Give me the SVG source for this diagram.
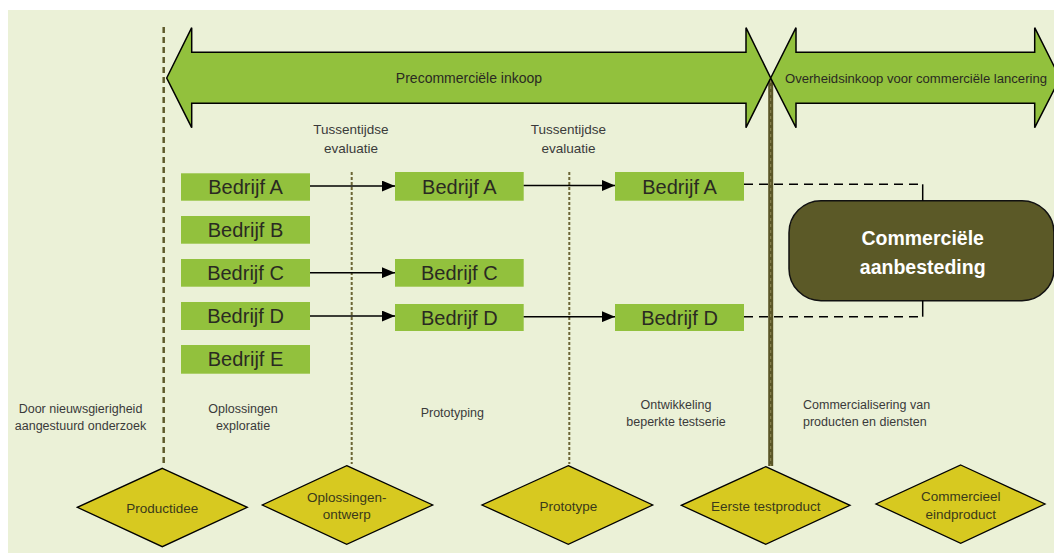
<svg xmlns="http://www.w3.org/2000/svg" width="1054" height="556" viewBox="0 0 1054 556">
<defs>
<style>
.panel{fill:#EBF1D7}
.band{fill:#92C13D;stroke:#000;stroke-width:1.5;stroke-linejoin:miter}
.box{fill:#92C13D}
.bt{font-family:"Liberation Sans",Arial,sans-serif;font-size:20px;fill:#2A2A22;text-anchor:middle}
.lbl{font-family:"Liberation Sans",Arial,sans-serif;font-size:12.5px;fill:#3A3A3A;text-anchor:middle}
.lbs{font-family:"Liberation Sans",Arial,sans-serif;font-size:12.5px;fill:#3A3A3A;text-anchor:start}
.ev{font-family:"Liberation Sans",Arial,sans-serif;font-size:13.5px;fill:#3A3A3A;text-anchor:middle}
.dt{font-family:"Liberation Sans",Arial,sans-serif;font-size:13.5px;fill:#3A3A1A;text-anchor:middle}
.dia{fill:#D7C920;stroke:#000;stroke-width:1.3}
.vdash{stroke:#5E5A2B;stroke-width:2.5;stroke-dasharray:6,4;fill:none}
.vdot{stroke:#6B6535;stroke-width:2;stroke-dasharray:3,2;fill:none}
.arr{stroke:#000;stroke-width:1.5;fill:none}
.dsh{stroke:#000;stroke-width:1.5;fill:none;stroke-dasharray:9,6}
</style>
<marker id="ah2" viewBox="0 0 12 10" refX="12" refY="5" markerWidth="13" markerHeight="11" markerUnits="userSpaceOnUse" orient="auto">
<path d="M0,0 L12,5 L0,10 z" fill="#000"/>
</marker>
</defs>

<rect class="panel" x="8" y="10" width="1046" height="543"/>

<g id="phase-lines">
<line class="vdash" x1="163.7" y1="27" x2="163.7" y2="466"/>
<line class="vdot" x1="351.7" y1="172" x2="351.7" y2="464"/>
<line class="vdot" x1="569.3" y1="172" x2="569.3" y2="464"/>
<line x1="770.7" y1="78" x2="770.7" y2="466" stroke="#5A5627" stroke-width="5"/>
<line x1="770.7" y1="80" x2="770.7" y2="466" stroke="#8E8955" stroke-width="1" stroke-dasharray="3,3"/>
</g>

<g id="arrow-precommercial">
<polygon class="band" points="166.7,78 191.7,27.7 191.7,52.3 746,52.3 746,27.7 770.7,78 746,127.7 746,103.3 191.7,103.3 191.7,127.7"/>
<text x="469" y="83" font-family="Liberation Sans,Arial,sans-serif" font-size="14" fill="#2A2A22" text-anchor="middle">Precommerciële inkoop</text>
</g>

<g id="arrow-commercial">
<polygon class="band" points="770.7,78 796,27.7 796,52.3 1034.7,52.3 1034.7,27.7 1060,78 1034.7,127.7 1034.7,103.3 796,103.3 796,127.7"/>
<text x="916" y="82.5" font-family="Liberation Sans,Arial,sans-serif" font-size="12" fill="#2A2A22" text-anchor="middle" textLength="262" lengthAdjust="spacingAndGlyphs">Overheidsinkoop voor commerciële lancering</text>
</g>

<g id="eval-1"><text class="ev" x="351" y="134">Tussentijdse</text><text class="ev" x="351" y="153">evaluatie</text></g>
<g id="eval-2"><text class="ev" x="568.5" y="134">Tussentijdse</text><text class="ev" x="568.5" y="153">evaluatie</text></g>

<g id="bedrijf-a1"><rect class="box" x="181" y="173.3" width="129" height="27.4"/><text class="bt" x="245.5" y="194">Bedrijf A</text></g>
<g id="bedrijf-b1"><rect class="box" x="181" y="216" width="129" height="27.7"/><text class="bt" x="245.5" y="237">Bedrijf B</text></g>
<g id="bedrijf-c1"><rect class="box" x="181" y="259" width="129" height="27.7"/><text class="bt" x="245.5" y="280">Bedrijf C</text></g>
<g id="bedrijf-d1"><rect class="box" x="181" y="302" width="129" height="28"/><text class="bt" x="245.5" y="323">Bedrijf D</text></g>
<g id="bedrijf-e1"><rect class="box" x="181" y="345" width="129" height="28.7"/><text class="bt" x="245.5" y="366">Bedrijf E</text></g>

<g id="bedrijf-a2"><rect class="box" x="395" y="172" width="128.7" height="28.7"/><text class="bt" x="459.3" y="193.5">Bedrijf A</text></g>
<g id="bedrijf-c2"><rect class="box" x="395" y="259" width="128.7" height="27.7"/><text class="bt" x="459.3" y="280">Bedrijf C</text></g>
<g id="bedrijf-d2"><rect class="box" x="395" y="304" width="128.7" height="27"/><text class="bt" x="459.3" y="324.5">Bedrijf D</text></g>

<g id="bedrijf-a3"><rect class="box" x="615" y="172" width="129" height="28.7"/><text class="bt" x="679.5" y="193.5">Bedrijf A</text></g>
<g id="bedrijf-d3"><rect class="box" x="615" y="304" width="129" height="27"/><text class="bt" x="679.5" y="324.5">Bedrijf D</text></g>

<g id="commerciele-aanbesteding">
<rect x="789" y="200.7" width="265" height="100" rx="32" ry="32" fill="#5B5927" stroke="#111" stroke-width="1.5"/>
<text x="922.7" y="245" font-family="Liberation Sans,Arial,sans-serif" font-size="19.5" font-weight="bold" fill="#FFFFFF" text-anchor="middle">Commerciële</text>
<text x="922.7" y="273.5" font-family="Liberation Sans,Arial,sans-serif" font-size="19.5" font-weight="bold" fill="#FFFFFF" text-anchor="middle">aanbesteding</text>
</g>

<g id="connectors">
<line class="arr" x1="310" y1="186" x2="395" y2="186" marker-end="url(#ah2)"/>
<line class="arr" x1="310" y1="272.7" x2="395" y2="272.7" marker-end="url(#ah2)"/>
<line class="arr" x1="310" y1="316" x2="395" y2="316" marker-end="url(#ah2)"/>
<line class="arr" x1="523.7" y1="185.5" x2="615" y2="185.5" marker-end="url(#ah2)"/>
<line class="arr" x1="523.7" y1="316.7" x2="615" y2="316.7" marker-end="url(#ah2)"/>
<polyline class="dsh" points="744,184.3 922.7,184.3"/>
<line x1="922.7" y1="184.3" x2="922.7" y2="200.7" stroke="#000" stroke-width="1.5"/>
<polyline class="dsh" points="744,316.7 922.7,316.7"/>
<line x1="922.7" y1="300.7" x2="922.7" y2="316.7" stroke="#000" stroke-width="1.5"/>
</g>

<g id="phase-labels">
<text class="lbl" x="80.5" y="413">Door nieuwsgierigheid</text>
<text class="lbl" x="80.5" y="430">aangestuurd onderzoek</text>
<text class="lbl" x="243" y="413">Oplossingen</text>
<text class="lbl" x="243" y="430">exploratie</text>
<text class="lbl" x="452.3" y="417">Prototyping</text>
<text class="lbl" x="676" y="409">Ontwikkeling</text>
<text class="lbl" x="676" y="426">beperkte testserie</text>
<text class="lbs" x="803" y="409">Commercialisering van</text>
<text class="lbs" x="803" y="426">producten en diensten</text>
</g>

<g id="productidee"><polygon class="dia" points="162.3,468.3 247.3,507.3 162.3,546.7 77.3,507.3"/><text class="dt" x="162.3" y="513">Productidee</text></g>
<g id="oplossingen-ontwerp"><polygon class="dia" points="346.7,465.7 432.7,505 346.7,544.3 262.3,505"/><text class="dt" x="346.7" y="501.5">Oplossingen-</text><text class="dt" x="346.7" y="519.3">ontwerp</text></g>
<g id="prototype"><polygon class="dia" points="568.3,465.7 652.7,505 568.3,544.3 482,505"/><text class="dt" x="568.3" y="510.7">Prototype</text></g>
<g id="eerste-testproduct"><polygon class="dia" points="765.7,466.7 850,505.3 765.7,544.3 681.3,505.3"/><text class="dt" x="765.7" y="510.7">Eerste testproduct</text></g>
<g id="commercieel-eindproduct"><polygon class="dia" points="960.7,465 1045,504 960.7,543.3 876,504"/><text class="dt" x="960.7" y="500.7">Commercieel</text><text class="dt" x="960.7" y="519.3">eindproduct</text></g>
</svg>
